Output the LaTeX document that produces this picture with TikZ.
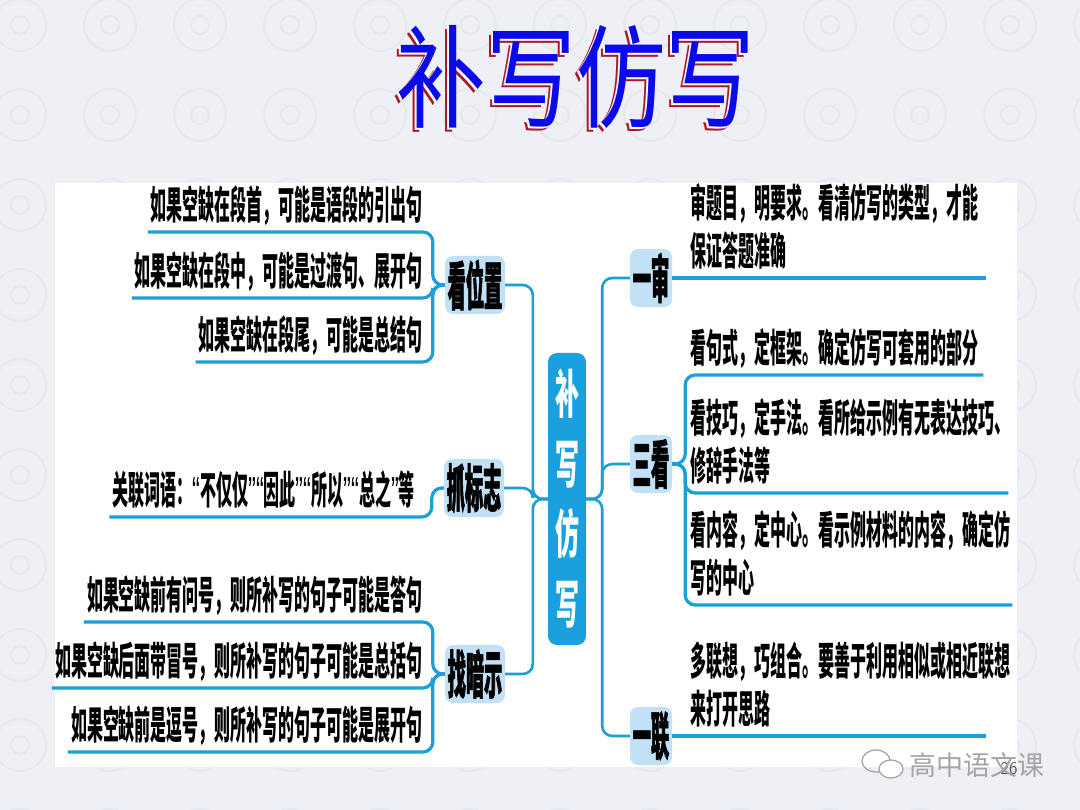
\documentclass[tikz,border=0pt]{standalone}
\usepackage{fontspec}
\usetikzlibrary{positioning}
\newfontfamily\cjk{Noto Sans CJK SC}
\newfontfamily\leaffont[FakeStretch=0.41]{Noto Sans CJK SC}
\newfontfamily\quotefont[FakeStretch=0.6]{Liberation Sans}
\newfontfamily\tagfont[FakeStretch=0.35, FakeBold=1]{Noto Sans CJK SC}
\newfontfamily\rootfont[FakeStretch=0.46]{Noto Sans CJK SC}
\newfontfamily\titlefont[FakeStretch=0.8]{Noto Sans CJK SC}
\newcommand\opq{{\quotefont\mdseries “}}
\newcommand\clq{{\quotefont\mdseries ”}}
\definecolor{linecyan}{RGB}{28,158,214}
\definecolor{rootcyan}{RGB}{27,160,222}
\definecolor{tagblue}{RGB}{194,225,246}
\definecolor{bgpattern}{RGB}{238,240,245}
\definecolor{bgflower}{RGB}{229,232,240}
\definecolor{titleblue}{RGB}{10,10,235}
\definecolor{titlered}{RGB}{170,25,40}
\definecolor{markgray}{RGB}{165,165,165}
\tikzstyle{titletext} = [inner sep=0pt, font=\titlefont\fontsize{112}{112}\selectfont]
\tikzstyle{root} = [rectangle, rounded corners=9pt, fill=rootcyan, text=white, minimum width=38pt,
minimum height=292pt, inner sep=0pt, align=center, font=\rootfont\bfseries\fontsize{52}{70}\selectfont]
\tikzstyle{tag} = [rectangle, rounded corners=8pt, fill=tagblue, minimum width=60pt, minimum height=58pt,
inner sep=0pt, font=\tagfont\bfseries\fontsize{52}{52}\selectfont]
\tikzstyle{lleaf} = [anchor=south east, inner xsep=3pt, inner ysep=12pt, text depth=0pt,
font=\leaffont\bfseries\fontsize{39}{48}\selectfont]
\tikzstyle{rleaf} = [anchor=south west, inner xsep=0pt, inner ysep=12pt, text depth=0pt, align=left,
font=\leaffont\bfseries\fontsize{39}{48}\selectfont]
\tikzstyle{twolines} = [text depth=48pt]
\tikzstyle{trunk} = [line width=2.6pt, draw=linecyan]
\tikzstyle{twig} = [line width=3.2pt, draw=linecyan]
\begin{document}
\begin{tikzpicture}[x=1pt, y=-1pt, node distance=18pt]
\useasboundingbox (0,0) rectangle (1080,810);
\fill[bgpattern] (0,0) rectangle (1080,810);
% faint pattern of the slide
\foreach \i in {0,...,12}
  \foreach \j in {0,...,9}
    \draw[bgflower, line width=2pt] (\i*90+20, \j*90+25) circle (26) (\i*90+20, \j*90+25) circle (9);
\fill[white] (55,183) rectangle (1017,767);

% title
\node (titleshadow) [titletext, text=titlered] at (572,81) {补写仿写};
\node (titlegap) [titletext, text=white] at (574,79) {补写仿写};
\node (title) [titletext, text=titleblue] at (576,77) {补写仿写};

% centre
\node (bxfx) [root] at (567,499) {补\\写\\仿\\写};

% left side
\node (kanwz) [tag] at (475,285) {看位置};
\node (zhuabz) [tag] at (474,488) {抓标志};
\node (zhaoas) [tag] at (475,674) {找暗示};

\node (w1) [lleaf] at (426,232) {如果空缺在段首，可能是语段的引出句};
\node (w2) [lleaf] at (426,298) {如果空缺在段中，可能是过渡句、展开句};
\node (w3) [lleaf] at (426,362) {如果空缺在段尾，可能是总结句};
\node (b1) [lleaf] at (418,517) {关联词语：\opq 不仅仅\clq\opq 因此\clq\opq 所以\clq\opq 总之\clq 等};
\node (a1) [lleaf] at (426,622) {如果空缺前有问号，则所补写的句子可能是答句};
\node (a2) [lleaf] at (426,688) {如果空缺后面带冒号，则所补写的句子可能是总括句};
\node (a3) [lleaf] at (426,752) {如果空缺前是逗号，则所补写的句子可能是展开句};

% right side
\node (yishen) [tag, minimum width=42pt] at (651,278) {一审};
\node (sankan) [tag, minimum width=42pt] at (651,464) {三看};
\node (yilian) [tag, minimum width=42pt] at (651,736) {一联};

\node (s1) [right=18pt of yishen.east, rleaf, text width=295pt, twolines] {审题目，明要求。看清仿写的类型，才能\\保证答题准确};
\node (k1) [rleaf, text width=293pt] at (690,375) {看句式，定框架。确定仿写可套用的部分};
\node (k2) [rleaf, text width=318pt, twolines] at (690,493) {看技巧，定手法。看所给示例有无表达技巧、\\修辞手法等};
\node (k3) [rleaf, text width=322pt, twolines] at (690,605) {看内容，定中心。看示例材料的内容，确定仿\\写的中心};
\node (l1) [right=18pt of yilian.east, rleaf, text width=295pt, twolines] {多联想，巧组合。要善于利用相似或相近联想\\来打开思路};

% connectors
\foreach \t in {kanwz, zhuabz, zhaoas}
  \draw[trunk] (\t.east) [rounded corners=10pt] -| ([xshift=-15pt]bxfx.west) [sharp corners] -- (bxfx.west);
\foreach \t in {yishen, sankan, yilian}
  \draw[trunk] (\t.west) [rounded corners=10pt] -| ([xshift=16pt]bxfx.east) [sharp corners] -- (bxfx.east);
\foreach \l in {w1, w2, w3}
  \draw[twig] (\l.south west) [rounded corners=10pt] -| ([xshift=-12pt]kanwz.west) [sharp corners] -- (kanwz.west);
\draw[twig] (b1.south west) [rounded corners=10pt] -| ([xshift=-12pt]zhuabz.west) [sharp corners] -- (zhuabz.west);
\foreach \l in {a1, a2, a3}
  \draw[twig] (\l.south west) [rounded corners=10pt] -| ([xshift=-12pt]zhaoas.west) [sharp corners] -- (zhaoas.west);
\draw[twig] (yishen.east) -- (s1.south east);
\foreach \l in {k1, k2, k3}
  \draw[twig] (\l.south east) [rounded corners=10pt] -| ([xshift=13pt]sankan.east) [sharp corners] -- (sankan.east);
\draw[twig] (yilian.east) -- (l1.south east);

% watermark
\node (pagenum) [text=black!65, font=\sffamily\fontsize{18}{18}\selectfont] at (1009,769) {26};
\draw[markgray, line width=1.3pt] (876,761) ellipse (14 and 11);
\draw[markgray, line width=1.3pt, fill=white] (891,769) ellipse (12 and 9);
\node (mark) [text=markgray, font=\cjk\fontsize{27}{27}\selectfont] at (977,765) {高中语文课};
\end{tikzpicture}
\end{document}
